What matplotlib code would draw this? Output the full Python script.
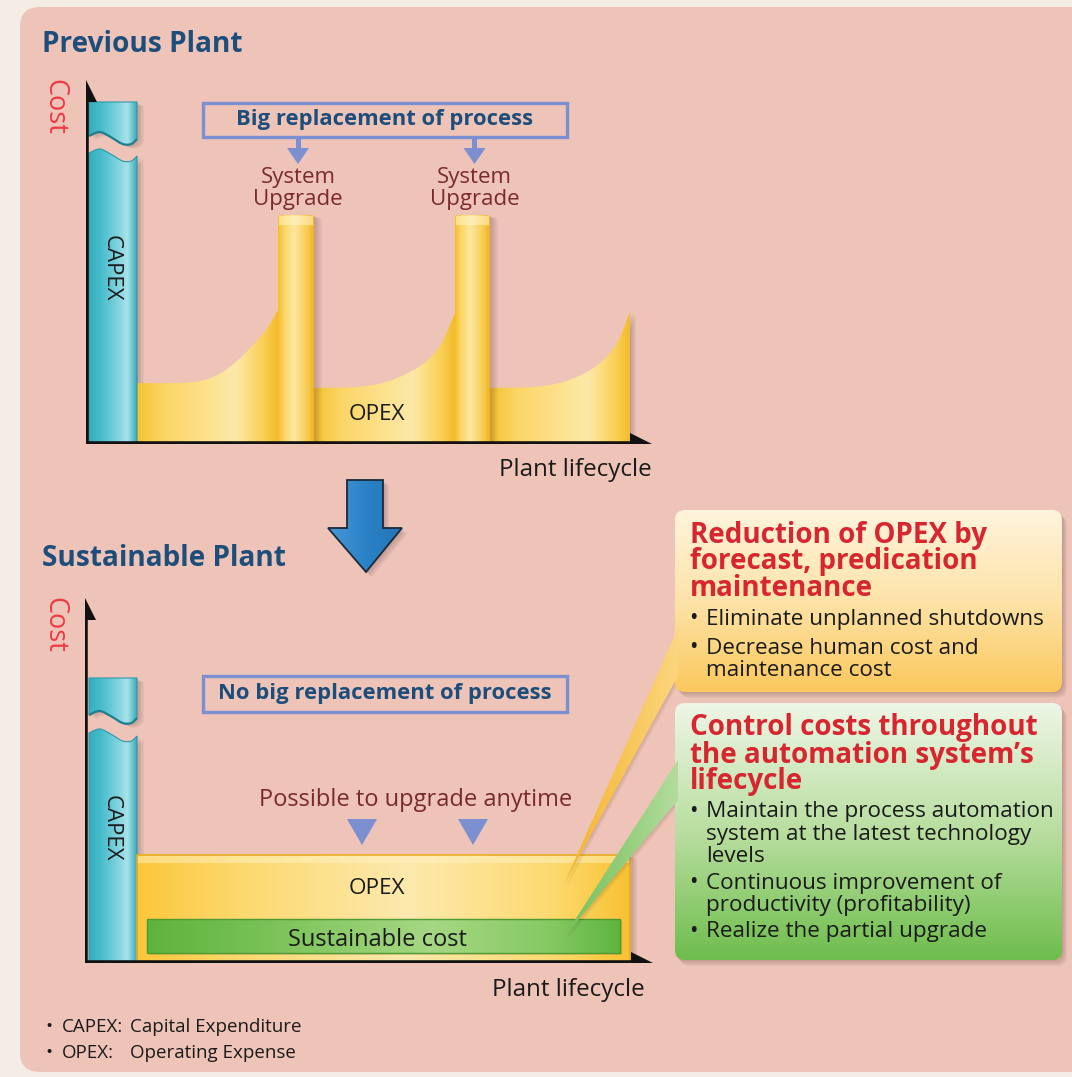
import numpy as np
import matplotlib
matplotlib.use('Agg')
import matplotlib.pyplot as plt
from matplotlib.patches import Polygon, Rectangle, FancyBboxPatch
from matplotlib.path import Path
from matplotlib.colors import LinearSegmentedColormap

W, H, DPI = 1072, 1077, 100

# ------------------------------------------------------------------ data
# Previous plant (cost in chart units, lifecycle in chart units)
prev_capex_span = [3, 51]
prev_capex_height = 342
prev_capex_break = [307, 290]          # bottom of upper piece, top of lower piece
prev_opex_x = [[51, 95, 118, 135, 151, 166, 180, 192],
               [228, 270, 296, 318, 338, 355, 369],
               [404, 447, 473, 495, 514, 531, 544]]
prev_opex_h = [[61, 61, 64, 71, 83, 98, 114, 134],
               [56, 57, 61, 69, 81, 100, 131],
               [56, 57, 61, 69, 81, 101, 132]]
prev_upgrade_spans = [[192, 228], [369, 404]]
prev_upgrade_height = [229, 229]
prev_upgrade_labels = ["System\nUpgrade", "System\nUpgrade"]

# Sustainable plant
sus_capex_span = [4, 52]
sus_capex_height = 285
sus_capex_break = [247, 229]
sus_opex_span = [52, 545]
sus_opex_height = 108
sus_cost_span = [62, 535]
sus_cost_range = [10, 44]
sus_upgrade_marks = [277, 388]

# break wave profile (fraction of bar width, vertical offset)
wave_fx = [0.0, 0.22, 0.45, 0.7, 0.88, 1.0]
wave_dy = [1, 5, 0, -7, -7, -2]

callout1_title = ["Reduction of OPEX by", "forecast, predication", "maintenance"]
callout1_items = [["Eliminate unplanned shutdowns"],
                  ["Decrease human cost and", "maintenance cost"]]
callout2_title = ["Control costs throughout", "the automation system\u2019s", "lifecycle"]
callout2_items = [["Maintain the process automation", "system at the latest technology", "levels"],
                  ["Continuous improvement of", "productivity (profitability)"],
                  ["Realize the partial upgrade"]]
footnotes = [("CAPEX:", "Capital Expenditure"), ("OPEX:", "Operating Expense")]

# ------------------------------------------------------------------ colours
BLUE_T = '#1d4e7b'
RED = '#ee3a44'
MAROON = '#7a2a2e'
PERI = '#7c8fd0'
GOLD = ['#f7c331', '#fbd566', '#fde9a8', '#f9cf55', '#f3bb2a']
CYAN = ['#35aebf', '#47bccb', '#7fd2de', '#a9e2ea', '#3aa9bb']
GREEN = ['#5db43d', '#79c256', '#a6d784', '#86c963', '#5fb43f']

FONT = ['Open Sans', 'DejaVu Sans']


def cmap_of(colors, stops=None):
    if stops is None:
        stops = np.linspace(0, 1, len(colors))
    return LinearSegmentedColormap.from_list('g', list(zip(stops, colors)))


def grad_patch(ax, patch, colors, stops=None, horizontal=True, zorder=2):
    patch.set_facecolor('none')
    patch.set_edgecolor('none')
    ax.add_patch(patch)
    ext = patch.get_path().transformed(patch.get_patch_transform()).get_extents()
    g = np.linspace(0, 1, 256)
    arr = g[None, :] if horizontal else g[:, None]
    im = ax.imshow(arr, cmap=cmap_of(colors, stops), extent=(ext.x0, ext.x1, ext.y0, ext.y1),
                   origin='lower', aspect='auto', zorder=zorder, interpolation='bilinear')
    im.set_clip_path(patch)
    return patch


def shadow(ax, verts, dx, dy, zorder=1, n=5, color='#5a3a30', a=0.06):
    for k in range(1, n + 1):
        v = np.array(verts, float) + np.array([dx * k / n, dy * k / n])
        ax.add_patch(Polygon(v, closed=True, fc=color, ec='none', alpha=a, zorder=zorder))


def curve_points(xs, ys):
    pts = np.column_stack([xs, ys]).astype(float)
    n = len(pts)
    verts = [pts[0]]
    codes = [Path.MOVETO]
    for i in range(n - 1):
        p0 = pts[max(i - 1, 0)]
        p1 = pts[i]
        p2 = pts[i + 1]
        p3 = pts[min(i + 2, n - 1)]
        verts += [p1 + (p2 - p0) / 6.0, p2 - (p3 - p1) / 6.0, p2]
        codes += [Path.CURVE4] * 3
    return Path(verts, codes).to_polygons(closed_only=False)[0]


def wave_points(x0, x1, ybase):
    xs = [x0 + f * (x1 - x0) for f in wave_fx]
    ys = [ybase + d for d in wave_dy]
    return curve_points(xs, ys)


def chart_axes(ox, oy, w, h):
    a = fig.add_axes([ox / W, 1 - oy / H, w / W, h / H], zorder=1)
    a.set_xlim(0, w)
    a.set_ylim(0, h)
    a.axis('off')
    a.patch.set_alpha(0)
    return a


def draw_capex(ax, span, top, brk):
    x0, x1 = span
    wv = wave_points(x0, x1, brk[0])
    upper = [(x0, top)] + [tuple(p) for p in wv] + [(x1, top)]
    wv2 = wave_points(x0, x1, brk[1])
    lower = [(x0, 0)] + [tuple(p) for p in wv2] + [(x1, 0)]
    for verts in (upper, lower):
        shadow(ax, verts, 7, -4, zorder=1.5)
        grad_patch(ax, Polygon(verts, closed=True), CYAN, [0, 0.25, 0.6, 0.8, 1.0], zorder=2)
        ax.add_patch(Polygon(verts, closed=True, fc='none', ec='#2c9aab', lw=0.8, zorder=2.1))
    ax.plot([p[0] for p in wv], [p[1] for p in wv], color='#1f7f8f', lw=1.6, zorder=2.2,
            solid_capstyle='butt')


def draw_axes_arrows(ax, xlen, ylen):
    lw = 4.0
    ax.plot([0, xlen - 18], [-4, -4], color='#6a4a40', lw=3, alpha=0.22, zorder=4.9)
    ax.plot([0, 0], [0, ylen - 18], color='#111111', lw=lw, zorder=5, solid_capstyle='butt')
    ax.plot([-2.5, xlen - 18], [0, 0], color='#111111', lw=lw, zorder=5, solid_capstyle='butt')
    ax.add_patch(Polygon([(-11, ylen - 22), (11, ylen - 22), (0, ylen)], closed=True,
                         fc='#111111', ec='none', zorder=5))
    ax.add_patch(Polygon([(xlen - 22, -11), (xlen - 22, 11), (xlen, 0)], closed=True,
                         fc='#111111', ec='none', zorder=5))


fig = plt.figure(figsize=(W / DPI, H / DPI), dpi=DPI)

# ------------------------------------------------------------------ background
bg = fig.add_axes([0, 0, 1, 1], zorder=0)
bg.set_xlim(0, W)
bg.set_ylim(H, 0)
bg.axis('off')
bg.add_patch(Rectangle((0, 0), W, H, fc='#f3ede5', ec='none'))
bg.add_patch(FancyBboxPatch((20, 7), W + 40, 1065, boxstyle='round,pad=0,rounding_size=20',
                            fc='#eec3b8', ec='none'))

# ------------------------------------------------------------------ chart 1
ax1 = chart_axes(86, 444, 580, 372)
draw_capex(ax1, prev_capex_span, prev_capex_height, prev_capex_break)
for xs, hs in zip(prev_opex_x, prev_opex_h):
    cp = curve_points(xs, hs)
    verts = [(xs[0], 0)] + [tuple(p) for p in cp] + [(xs[-1], 0)]
    shadow(ax1, verts, 6, -3, zorder=1.5)
    grad_patch(ax1, Polygon(verts, closed=True), GOLD, [0, 0.2, 0.7, 0.9, 1.0], zorder=2)
for (x0, x1), h in zip(prev_upgrade_spans, prev_upgrade_height):
    verts = [(x0, 0), (x0, h - 2), (x0 + 2, h), (x1 - 2, h), (x1, h - 2), (x1, 0)]
    shadow(ax1, verts, 8, -3, zorder=2.5)
    grad_patch(ax1, Polygon(verts, closed=True), ['#f5bf2c', '#fbd86e', '#fde7a0', '#f8cd52', '#eeb325'],
               [0, 0.2, 0.45, 0.8, 1.0], zorder=3)
    ax1.add_patch(Rectangle((x0 + 1, h - 10), x1 - x0 - 2, 9, fc='#fff3c8', ec='none', alpha=0.55, zorder=3.1))
draw_axes_arrows(ax1, 566, 364)
ax1.set_xlim(0, 580)
ax1.set_ylim(0, 372)

# ------------------------------------------------------------------ chart 2
ax2 = chart_axes(85, 963, 580, 372)
draw_capex(ax2, sus_capex_span, sus_capex_height, sus_capex_break)
x0, x1 = sus_opex_span
ov = [(x0, 0), (x0, sus_opex_height), (x1, sus_opex_height), (x1, 0)]
shadow(ax2, ov, 7, -4, zorder=1.5)
grad_patch(ax2, Polygon(ov, closed=True), ['#fbc73a', '#fcd86c', '#fde9ae', '#fcd96e', '#f8c232'],
           [0, 0.2, 0.55, 0.85, 1.0], zorder=2)
ax2.add_patch(Rectangle((x0, sus_opex_height - 8), x1 - x0, 8, fc='#fff2c4', ec='none', alpha=0.5, zorder=2.1))
ax2.add_patch(Polygon(ov, closed=True, fc='none', ec='#e9ad1e', lw=1.2, zorder=2.2))
c0, c1 = sus_cost_span
y0, y1 = sus_cost_range
gv = [(c0, y0), (c0, y1), (c1, y1), (c1, y0)]
shadow(ax2, gv, 3, -2, zorder=2.3, color='#6a5010', a=0.08)
grad_patch(ax2, Polygon(gv, closed=True), GREEN, [0, 0.25, 0.6, 0.85, 1.0], zorder=2.5)
ax2.add_patch(Polygon(gv, closed=True, fc='none', ec='#4f9a33', lw=1.0, zorder=2.6))
for xm in sus_upgrade_marks:
    ax2.add_patch(Polygon([(xm - 15, 144), (xm + 15, 144), (xm, 118)], closed=True,
                          fc=PERI, ec='none', zorder=3))
draw_axes_arrows(ax2, 568, 365)
ax2.set_xlim(0, 580)
ax2.set_ylim(0, 372)

# ------------------------------------------------------------------ overlay
top = fig.add_axes([0, 0, 1, 1], zorder=2)
top.set_xlim(0, W)
top.set_ylim(H, 0)
top.axis('off')
top.patch.set_alpha(0)


def txt(x, y, s, size, color='#1a1a1a', weight='normal', ha='center', va='center', rot=0):
    top.text(x, y, s, fontsize=size, color=color, fontweight=weight, ha=ha, va=va,
             rotation=rot, family=FONT, zorder=10)


# titles
txt(42, 45, "Previous Plant", 20.2, BLUE_T, 'bold', ha='left')
txt(42, 559, "Sustainable Plant", 20.2, BLUE_T, 'bold', ha='left')

# chart labels
txt(54, 107, "Cost", 19.5, RED, rot=270)
txt(111, 268, "CAPEX", 16, '#1a1a1a', rot=270)
txt(54, 625, "Cost", 19.5, RED, rot=270)
txt(111, 828, "CAPEX", 16, '#1a1a1a', rot=270)
txt(377, 415, "OPEX", 16.2)
txt(652, 470, "Plant lifecycle", 17.4, ha='right')
txt(645, 990, "Plant lifecycle", 17.4, ha='right')

top.add_patch(Rectangle((203, 103), 364, 34, fc='none', ec=PERI, lw=2.4, zorder=6))
txt(385, 120, "Big replacement of process", 15.8, BLUE_T, 'bold')
for (xa, xb), lab in zip(prev_upgrade_spans, prev_upgrade_labels):
    xc = 86 + (xa + xb) / 2 + 2
    top.add_patch(Rectangle((xc - 2.5, 137), 5, 12, fc=PERI, ec='none', zorder=6))
    top.add_patch(Polygon([(xc - 11, 148), (xc + 11, 148), (xc, 164)], closed=True,
                          fc=PERI, ec='none', zorder=6))
    l1, l2 = lab.split("\n")
    txt(xc, 178, l1, 16, MAROON)
    txt(xc, 200, l2, 16, MAROON)

top.add_patch(Rectangle((203, 676), 364, 36, fc='none', ec=PERI, lw=2.4, zorder=6))
txt(385, 694, "No big replacement of process", 15.8, BLUE_T, 'bold')
txt(416, 800, "Possible to upgrade anytime", 17, MAROON)
txt(377, 888, "OPEX", 16.2)
txt(377, 940, "Sustainable cost", 17)

# big arrow
arrow = [(347, 480), (383, 480), (383, 528), (402, 528), (366, 572), (328, 528), (347, 528)]
for k in range(1, 6):
    top.add_patch(Polygon(np.array(arrow) + [k * 1.2, k * 1.0], closed=True, fc='#4a3030',
                          ec='none', alpha=0.06, zorder=6))
grad_patch(top, Polygon(arrow, closed=True), ['#4a9ad8', '#2b82c6', '#2475b8'], horizontal=True, zorder=7)
top.add_patch(Polygon(arrow, closed=True, fc='none', ec='#1a2a3a', lw=1.3, zorder=7.1))


# callouts
def callout(x0, y0, x1, y1, colors, wedge, wcolors):
    for k in range(1, 6):
        top.add_patch(FancyBboxPatch((x0 + k * 1.0, y0 + k * 1.2), x1 - x0, y1 - y0,
                                     boxstyle='round,pad=0,rounding_size=10',
                                     fc='#5a3a30', ec='none', alpha=0.06, zorder=6))
    for k in range(1, 4):
        top.add_patch(Polygon(np.array(wedge) + [k * 1.0, k * 1.0], closed=True, fc='#5a3a30',
                              ec='none', alpha=0.06, zorder=6))
    grad_patch(top, FancyBboxPatch((x0, y0), x1 - x0, y1 - y0,
                                   boxstyle='round,pad=0,rounding_size=10'),
               colors, horizontal=False, zorder=7)
    grad_patch(top, Polygon(wedge, closed=True), wcolors, horizontal=True, zorder=7)


callout(675, 510, 1062, 692, ['#fff4dc', '#fde3a8', '#fbc85c'],
        [(678, 628), (678, 676), (564, 884)], ['#f3b530', '#f7c454', '#fcd67e'])
callout(675, 703, 1062, 960, ['#eef6e6', '#b9dea0', '#6ebd4c'],
        [(678, 760), (678, 800), (564, 937)], ['#78c05a', '#92cd7a', '#b3dc9c'])


def block(title, items, ty, iy, line=22.5, gap=4):
    for i, s in enumerate(title):
        txt(690, ty + i * 27, s, 20, '#d7262f', 'bold', ha='left')
    y = iy
    for it in items:
        txt(689, y, "\u2022", 16.5, '#1a1a1a', ha='left')
        for s in it:
            txt(706, y, s, 16.2, '#1a1a1a', ha='left')
            y += line
        y += gap


block(callout1_title, callout1_items, 535, 619, line=22, gap=7)
block(callout2_title, callout2_items, 728, 812, line=22.5, gap=3.5)

# footnotes
foot_x2 = [130, 130]
for i, (a, b) in enumerate(footnotes):
    y = 1027 + i * 26
    txt(45, y, "\u2022", 13.5, '#1a1a1a', ha='left')
    txt(62, y, a, 13.5, '#1a1a1a', ha='left')
    txt(foot_x2[i], y, b, 13.5, '#1a1a1a', ha='left')

top.set_xlim(0, W)
top.set_ylim(H, 0)
fig.savefig('out.png', dpi=DPI)
